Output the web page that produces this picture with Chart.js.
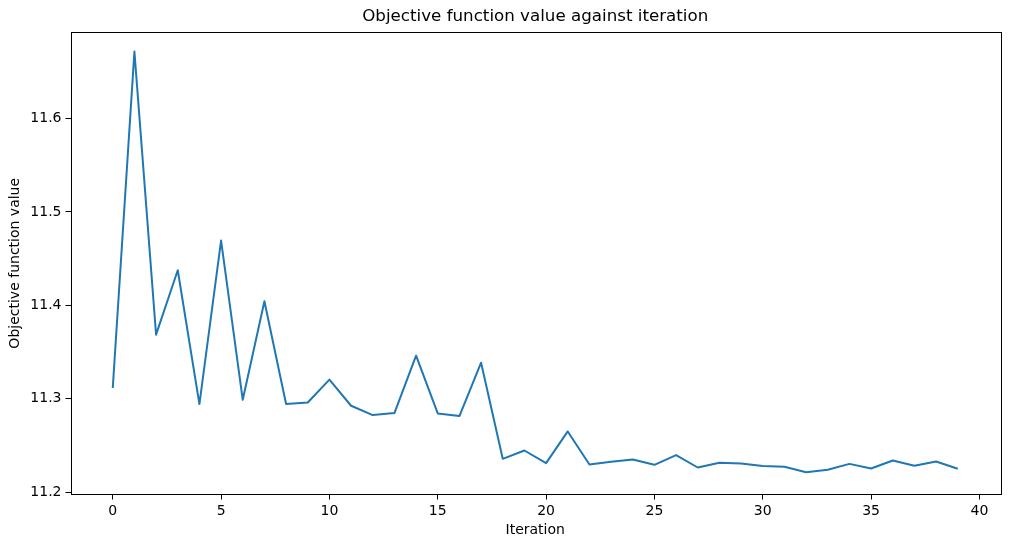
<!DOCTYPE html>
<html>
<head>
<meta charset="utf-8">
<script src="https://cdn.jsdelivr.net/npm/chart.js@4/dist/chart.umd.min.js"></script>
<style>
  body { margin: 0; background: #fff; }
  #wrap { width: 1010px; height: 547px; }
</style>
</head>
<body>
<div id="wrap"><canvas id="chart" width="1010" height="547"></canvas></div>
<script>
const iterations = [0, 1, 2, 3, 4, 5, 6, 7, 8, 9, 10, 11, 12, 13, 14, 15, 16, 17, 18, 19,
                    20, 21, 22, 23, 24, 25, 26, 27, 28, 29, 30, 31, 32, 33, 34, 35, 36, 37, 38, 39];
const objectiveValues = [11.3115, 11.6716, 11.3686, 11.4375, 11.2943, 11.4693, 11.2989, 11.4043, 11.2943, 11.2960,
                         11.3204, 11.2925, 11.2825, 11.2847, 11.3461, 11.2843, 11.2815, 11.3386, 11.2357, 11.2446,
                         11.2311, 11.2650, 11.2296, 11.2325, 11.2350, 11.2293, 11.2397, 11.2264, 11.2314, 11.2307,
                         11.2279, 11.2271, 11.2214, 11.2239, 11.2303, 11.2253, 11.2339, 11.2282, 11.2328, 11.2250];
const xTicks = [0, 5, 10, 15, 20, 25, 30, 35, 40];
const yTicks = [11.2, 11.3, 11.4, 11.5, 11.6];

const font = { family: 'DejaVu Sans', size: 14 };

// matplotlib-like box round the plot area
const frame = {
    id: 'frame',
    afterDraw(chart) {
        const a = chart.chartArea, ctx = chart.ctx;
        ctx.save();
        ctx.strokeStyle = '#000';
        ctx.lineWidth = 1;
        ctx.strokeRect(Math.round(a.left) + 0.5, Math.round(a.top) + 0.5,
                       Math.round(a.right - a.left), Math.round(a.bottom - a.top));
        ctx.restore();
    }
};

new Chart(document.getElementById('chart'), {
    type: 'line',
    data: {
        datasets: [{
            data: iterations.map((it, i) => ({ x: it, y: objectiveValues[i] })),
            borderColor: '#1f77b4',
            borderWidth: 2,
            borderJoinStyle: 'round',
            pointRadius: 0,
            tension: 0,
            fill: false
        }]
    },
    options: {
        responsive: false,
        animation: false,
        devicePixelRatio: 1,
        layout: { padding: { right: 10 } },
        plugins: {
            legend: { display: false },
            tooltip: { enabled: false },
            title: {
                display: true,
                fullSize: false,
                text: 'Objective function value against iteration',
                color: '#000',
                font: { family: 'DejaVu Sans', size: 16.7, weight: 'normal' },
                padding: { top: 7, bottom: 5 }
            }
        },
        scales: {
            x: {
                type: 'linear',
                min: -1.95,
                max: 40.95,
                afterBuildTicks: s => { s.ticks = xTicks.map(v => ({ value: v })); },
                afterFit: s => { s.height = 52.5; },
                grid: { drawOnChartArea: false, drawTicks: true, tickLength: 5, color: '#000' },
                border: { display: false },
                ticks: { color: '#000', font: font, padding: 3, maxRotation: 0 },
                title: { display: true, text: 'Iteration', color: '#000', font: font, padding: { top: 0, bottom: 8 } }
            },
            y: {
                min: 11.1975,
                max: 11.6925,
                afterBuildTicks: s => { s.ticks = yTicks.map(v => ({ value: v })); },
                afterFit: s => { s.width = 70.5; },
                grid: { drawOnChartArea: false, drawTicks: true, tickLength: 5, color: '#000' },
                border: { display: false },
                ticks: { color: '#000', font: font, padding: 4, callback: v => v.toFixed(1) },
                title: { display: true, text: 'Objective function value', color: '#000', font: font, padding: { top: 7, bottom: 0 } }
            }
        }
    },
    plugins: [frame]
});
</script>
</body>
</html>
